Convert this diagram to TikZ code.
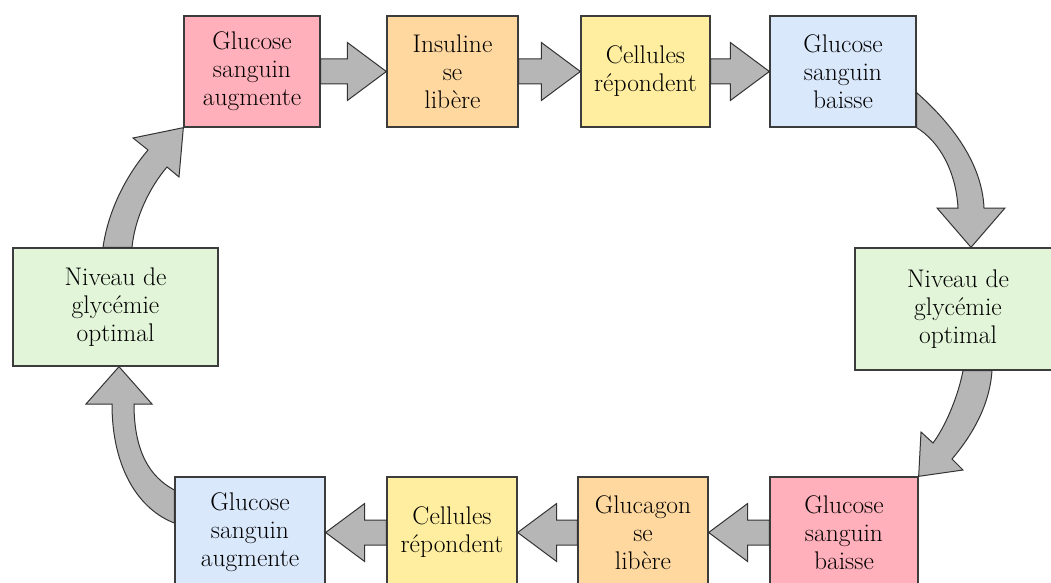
\documentclass[tikz,border=0pt]{standalone}
\usetikzlibrary{calc}
\definecolor{rose}{RGB}{255,176,186}
\definecolor{peche}{RGB}{255,216,160}
\definecolor{jaune}{RGB}{255,238,160}
\definecolor{bleu}{RGB}{218,232,252}
\definecolor{vert}{RGB}{226,245,216}
\definecolor{gris}{RGB}{182,182,182}
\definecolor{trait}{RGB}{60,60,60}
\tikzset{
  etape/.style={draw=trait, line width=1.3pt, minimum height=111pt, inner sep=0pt,
    align=center, text=black, font=\fontsize{25.5}{28}\selectfont},
  fleche/.style={draw=black!80, fill=gris, line width=1pt, line join=miter}
}
% straight block arrow from #1 to #2
\newcommand{\fl}[2]{
  \path (#2) coordinate (tip) ($(#2)!39pt!(#1)$) coordinate (hb);
  \draw[fleche] ($(#1)!12.5pt!90:(tip)$) -- ($(hb)!12.5pt!-90:(#1)$) -- ($(hb)!29pt!-90:(#1)$)
    -- (tip) -- ($(hb)!29pt!90:(#1)$) -- ($(hb)!12.5pt!90:(#1)$) -- ($(#1)!12.5pt!-90:(tip)$) -- cycle;
}

\begin{document}
\begin{tikzpicture}[x=1pt,y=1pt]
  \useasboundingbox (0,0) rectangle (1051,582);
  \clip (0,0) rectangle (1051,582);

  % top row
  \node[etape, fill=rose, minimum width=136pt] (gsa) at (252,510.5) {Glucose\\sanguin\\augmente};
  \node[etape, fill=peche, minimum width=131pt] (ins) at (452.5,510.5) {Insuline\\se\\libère};
  \node[etape, fill=jaune, minimum width=129pt] (cel) at (645.5,510.5) {Cellules\\répondent};
  \node[etape, fill=bleu, minimum width=146pt] (gsb) at (843,510.5) {Glucose\\sanguin\\baisse};
  % sides
  \node[etape, fill=vert, minimum width=206pt, minimum height=122pt] (nvd) at (958,273) {Niveau de\\glycémie\\optimal};
  \node[etape, fill=vert, minimum width=205pt, minimum height=118pt] (nvg) at (115.5,275) {Niveau de\\glycémie\\optimal};
  % bottom row
  \node[etape, fill=rose, minimum width=148pt] (gbb) at (844,49.5) {Glucose\\sanguin\\baisse};
  \node[etape, fill=peche, minimum width=130pt] (glu) at (643,49.5) {Glucagon\\se\\libère};
  \node[etape, fill=jaune, minimum width=130pt] (cer) at (452,49.5) {Cellules\\répondent};
  \node[etape, fill=bleu, minimum width=150pt] (gba) at (250,49.5) {Glucose\\sanguin\\augmente};

  \fl{gsa.east}{ins.west}
  \fl{ins.east}{cel.west}
  \fl{cel.east}{gsb.west}
  \fl{gbb.west}{glu.east}
  \fl{glu.west}{cer.east}
  \fl{cer.west}{gba.east}

  % curved arrows
  \draw[fleche] ($(gsb.south east)+(0,35)$) .. controls (950,460) and (982,420) .. (984,374)
    -- (1005,374) -- ($(nvd.north)+(13,0)$) -- (937,374) -- (958,374)
    .. controls (956,410) and (940,440) .. (gsb.south east) -- cycle;
  \draw[fleche] ($(nvd.south)+(5,0)$) .. controls (958,185) and (945,155) .. (933,139)
    -- (921,150) -- (gbb.north east) -- (963,112) -- (952,123)
    .. controls (975,150) and (990,180) .. ($(nvd.south)+(34,0)$) -- cycle;
  \draw[fleche] ($(gba.west)+(0,9.5)$) .. controls (140,72) and (112,112) .. (112,178)
    -- (86,178) -- ($(nvg.south)+(3.5,0)$) -- (152,178) -- (134,178)
    .. controls (134,130) and (150,105) .. ($(gba.west)+(0,42.5)$) -- cycle;
  \draw[fleche] ($(nvg.north)+(-12.5,0)$) .. controls (108,370) and (125,405) .. (148,432)
    -- (133,444) -- (gsa.south west) -- (179,405) -- (167,415)
    .. controls (150,395) and (135,365) .. ($(nvg.north)+(16.5,0)$) -- cycle;
\end{tikzpicture}
\end{document}
